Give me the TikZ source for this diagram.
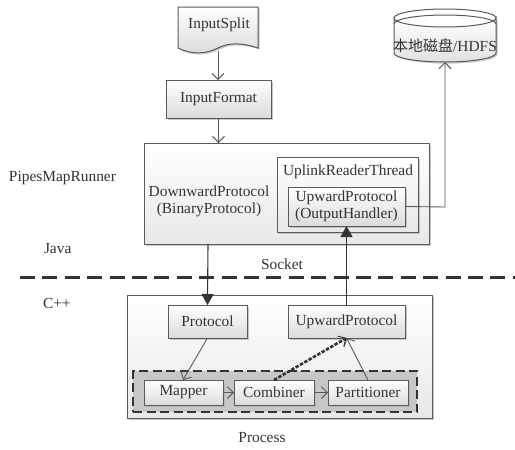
\documentclass[tikz,border=0pt]{standalone}
\usepackage{fontspec}
\setmainfont{Liberation Serif}
\newfontfamily\cjk{Noto Sans CJK SC}
\usetikzlibrary{arrows.meta,shadows}
\definecolor{ink}{HTML}{333333}
\definecolor{edge}{HTML}{5A5A5A}
\tikzset{
  softshadow/.style={drop shadow={shadow xshift=1.6pt,shadow yshift=-1.6pt,fill=black!30,opacity=.7}},
  panel/.style={draw=edge,line width=1pt,top color=white,bottom color=black!9,softshadow,anchor=north west},
  blockbox/.style={draw=edge,line width=1pt,top color=white,bottom color=black!14,softshadow,anchor=north west,align=center},
  txt/.style={align=center},
  openarrow/.style={draw=edge,line width=.9pt,-{Straight Barb[length=6pt,width=12pt,line width=.9pt]}},
  solidarrow/.style={draw=ink,line width=1.1pt,-{Triangle[length=11pt,width=12pt,fill=ink]}},
  dashedarrow/.style={draw=ink,line width=2.6pt,dash pattern=on 3.5pt off 1.5pt,-{Straight Barb[length=6pt,width=12pt,line width=.9pt]}},
  groupbox/.style={draw=ink,line width=2.2pt,dash pattern=on 9pt off 4.5pt,fill=black!22,anchor=north west},
  sepline/.style={draw=ink,line width=3pt,dash pattern=on 15pt off 7.4pt},
}
\begin{document}
\begin{tikzpicture}[x=1pt,y=-1pt,every node/.style={font=\fontsize{15.4}{17}\selectfont,text=ink,inner sep=0pt,outer sep=0pt}]
\useasboundingbox (0,0) rectangle (515,450);
\fill[white] (0,0) rectangle (515,450);
% InputSplit document
\path[draw=edge,line width=1pt,top color=white,bottom color=black!14,softshadow]
  (178,7) -- (258,7) -- (258,48) .. controls (240,42) and (228,43) .. (218,48) .. controls (206,54) and (192,55) .. (178,48) -- cycle;
\node[txt,minimum width=80pt,minimum height=44pt,anchor=north west] (split) at (178,7) {};
\node at (219,25) {InputSplit};
% disk
\path[draw=edge,line width=1pt,top color=white,bottom color=black!12,softshadow]
  (394,18) arc[start angle=180,end angle=0,x radius=51,y radius=9] -- (496,53) arc[start angle=0,end angle=180,x radius=51,y radius=9] -- cycle;
\draw[edge,line width=1pt] (394,18) arc[start angle=180,end angle=360,x radius=51,y radius=9];
\draw[edge,line width=1pt] (394,24) arc[start angle=180,end angle=360,x radius=51,y radius=9];
\node[minimum width=102pt,minimum height=53pt,anchor=north west] (disk) at (394,9) {};
\node at (445,46) {{\cjk\fontsize{15}{16}\selectfont 本地磁盘}/HDFS};
% panels
\node[blockbox,minimum width=105pt,minimum height=38pt] (fmt) at (166,80) {InputFormat};
\node[panel,minimum width=285pt,minimum height=101pt] (pipes) at (144,143) {};
\node[txt] at (209,201) {DownwardProtocol\\(BinaryProtocol)};
\node[panel,minimum width=141pt,minimum height=75pt] (uplink) at (277,157) {};
\node at (348,172) {UplinkReaderThread};
\node[blockbox,minimum width=117pt,minimum height=39pt] (up1) at (288,187) {UpwardProtocol\\(OutputHandler)};
\node[panel,minimum width=305pt,minimum height=123pt] (proc) at (127,295) {};
\node[blockbox,minimum width=79pt,minimum height=33pt] (proto) at (168,305) {Protocol};
\node[blockbox,minimum width=117pt,minimum height=33pt] (up2) at (288,305) {UpwardProtocol};
\node[groupbox,minimum width=284pt,minimum height=41pt] (grp) at (133,371) {};
\node[blockbox,minimum width=79pt,minimum height=25pt] (map) at (144,380) {Mapper};
\node[blockbox,minimum width=80pt,minimum height=25pt] (comb) at (234,380) {Combiner};
\node[blockbox,minimum width=80pt,minimum height=25pt] (part) at (328,380) {Partitioner};
% free labels
\node[anchor=west] at (9,178) {PipesMapRunner};
\node[anchor=west] at (44,249) {Java};
\node[anchor=west] at (43,303) {C++};
\node (sock) at (282,264) {Socket};
\node at (262,438) {Process};
% separator
\coordinate (sepa) at (20,277);
\coordinate (sepb) at (515,277);
\draw[sepline] (sepa) -- (sepb);
% connectors
\draw[openarrow] (split.south) -- (fmt.north -| split.south);
\draw[openarrow] (fmt.south) -- (fmt.south |- pipes.north);
\draw[openarrow] (up1.east) -- (445,207) -- (disk.south -| 445,0);
\draw[solidarrow] (208,244) -- (proto.north);
\draw[solidarrow] (up2.north) -- (up1.south);
\draw[openarrow] (proto.south) -- (183,380);
\draw[openarrow] (368,380) -- (up2.south);
\draw[dashedarrow] (comb.north) -- (up2.south);
\draw[openarrow] (map.east) -- (comb.west);
\draw[openarrow] (comb.east) -- (part.west);
\end{tikzpicture}
\end{document}
